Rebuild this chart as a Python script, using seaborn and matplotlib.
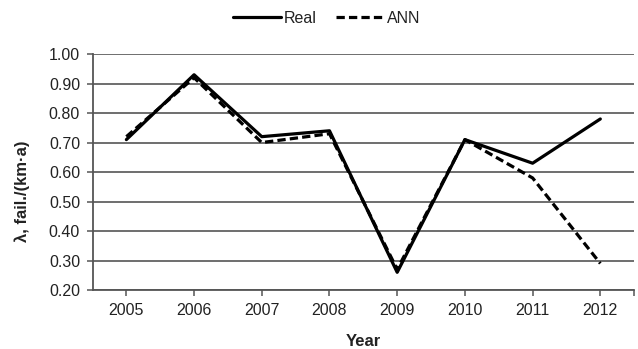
import matplotlib
matplotlib.use("Agg")
import matplotlib.pyplot as plt
from matplotlib.lines import Line2D
import seaborn as sns
import pandas as pd

years = ["2005", "2006", "2007", "2008", "2009", "2010", "2011", "2012"]
real = [0.71, 0.93, 0.72, 0.74, 0.26, 0.71, 0.63, 0.78]
ann = [0.72, 0.92, 0.70, 0.73, 0.27, 0.71, 0.58, 0.29]
yticks = [0.20, 0.30, 0.40, 0.50, 0.60, 0.70, 0.80, 0.90, 1.00]

sns.set_theme(style="white")
plt.rcParams["font.family"] = ["Liberation Sans", "DejaVu Sans"]

df = pd.DataFrame({
    "Year": list(range(len(years))) * 2,
    "value": real + ann,
    "series": ["Real"] * len(years) + ["ANN"] * len(years),
})

LW = 2.3
DASH = (2.6, 1.3)
GRID = "#555555"
TXT = "#222222"

fig = plt.figure(figsize=(6.38, 3.49), dpi=100)
ax = fig.add_axes([0.145, 0.169, 0.849, 0.676])

sns.lineplot(data=df, x="Year", y="value", hue="series", style="series",
             palette={"Real": "black", "ANN": "black"},
             dashes={"Real": "", "ANN": DASH},
             linewidth=LW, ax=ax, legend=False, zorder=3)

ax.set_xlim(-0.5, len(years) - 0.5)
ax.set_ylim(0.20, 1.00)
ax.set_yticks(yticks)
ax.set_yticklabels([f"{v:.2f}" for v in yticks], fontsize=11.5, color=TXT)
ax.set_xticks(range(len(years)))
ax.set_xticklabels(years, fontsize=11.5, color=TXT)
ax.set_xticks([len(years) - 0.5], minor=True)
ax.yaxis.grid(True, color=GRID, linewidth=1.2)
ax.xaxis.grid(False)
for s in ["top", "right"]:
    ax.spines[s].set_visible(False)
for s in ["left", "bottom"]:
    ax.spines[s].set_color(GRID)
    ax.spines[s].set_linewidth(1.3)
ax.tick_params(axis="both", which="both", length=4, width=1.1, color=GRID,
               direction="out", bottom=True, left=True, pad=5)
ax.set_xlabel("Year", fontsize=12, fontweight="bold", color=TXT, labelpad=12)
ax.set_ylabel("λ, fail./(km·a)", fontsize=12, fontweight="bold", color=TXT)
ax.yaxis.set_label_coords(-0.115, 0.42)

# legend above the plot
handles = [Line2D([0], [0], color="black", linewidth=LW),
           Line2D([0], [0], color="black", linewidth=LW, dashes=DASH)]
fig.legend(handles, ["Real", "ANN"], loc="center", bbox_to_anchor=(0.512, 0.948),
           ncol=2, frameon=False, fontsize=11.5, handlelength=3.0,
           handletextpad=0.2, columnspacing=1.2, labelcolor=TXT)

fig.savefig("out.png", dpi=100)
